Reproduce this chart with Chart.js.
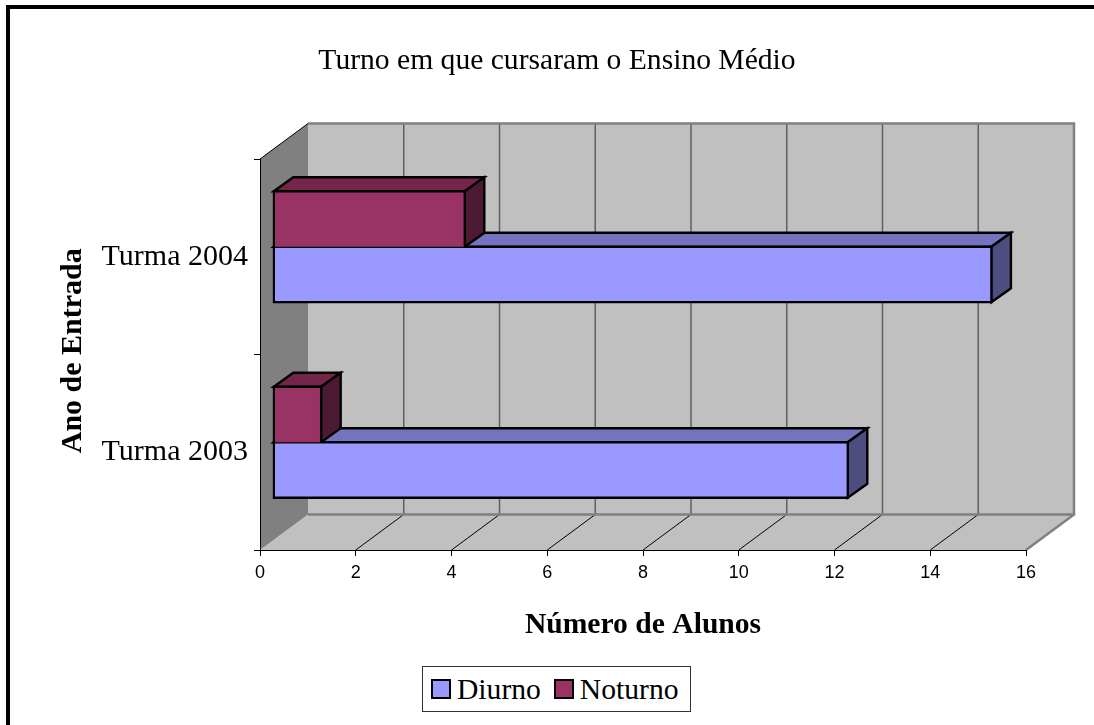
<!DOCTYPE html>
<html>
<head>
<meta charset="utf-8">
<title>Turno em que cursaram o Ensino Médio</title>
<script src="https://cdn.jsdelivr.net/npm/chart.js@4"></script>
<style>
    html, body { margin: 0; background: #fff; overflow: hidden; }
    #frame { position: absolute; left: 6px; top: 5px; right: 0; bottom: 0; border-left: 4px solid #000; border-top: 4px solid #000; }
    #chart { position: absolute; left: 20px; top: 0; }
    #legend {
        position: absolute; left: 422px; top: 666px; width: 267px; height: 44px;
        border: 1px solid #333; background: #fff; display: flex; align-items: center;
        font: 29.6px "Liberation Serif", serif; color: #000;
    }
    #legend i { display: block; width: 16px; height: 16px; border: 2px solid #000; margin: 0 6px 0 8px; }
    #legend span + i { margin-left: 13px; }
</style>
</head>
<body>
<div id="frame"></div>
<canvas id="chart" width="1074" height="725"></canvas>
<div id="legend"></div>
<script>
const categories = ["Turma 2003", "Turma 2004"];
const diurno = [12, 15];
const noturno = [1, 4];
const xTicksMax = 16;
const xTicksStep = 2;

const SERIF = '"Liberation Serif", serif';

// depth of the box the bars stand in, and of each bar
const BOX_DX = 48, BOX_DY = 35.5;
const BAR_SHIFT_X = 13.3, BAR_SHIFT_Y = 10;
const BAR_DX = 19.5, BAR_DY = 14;
const BAR_LINE = 2.4;

const box3d = {
    id: "box3d",
    beforeDraw(chart) {
        const ctx = chart.ctx;
        const {left, right, top, bottom} = chart.chartArea;
        const x = chart.scales.x;

        ctx.save();
        // back wall
        ctx.fillStyle = "#c0c0c0";
        ctx.fillRect(left + BOX_DX, top - BOX_DY, right - left, bottom - top);
        // floor
        ctx.beginPath();
        ctx.moveTo(left, bottom);
        ctx.lineTo(left + BOX_DX, bottom - BOX_DY);
        ctx.lineTo(right + BOX_DX, bottom - BOX_DY);
        ctx.lineTo(right, bottom);
        ctx.closePath();
        ctx.fill();
        // left wall
        ctx.fillStyle = "#808080";
        ctx.beginPath();
        ctx.moveTo(left, top);
        ctx.lineTo(left + BOX_DX, top - BOX_DY);
        ctx.lineTo(left + BOX_DX, bottom - BOX_DY);
        ctx.lineTo(left, bottom);
        ctx.closePath();
        ctx.fill();

        // gridlines on the wall, running on over the floor
        for (const tick of x.ticks) {
            if (tick.value === 0 || tick.value === xTicksMax) continue;
            const px = x.getPixelForValue(tick.value);
            ctx.strokeStyle = "#606060";
            ctx.lineWidth = 1.5;
            ctx.beginPath();
            ctx.moveTo(px + BOX_DX, top - BOX_DY);
            ctx.lineTo(px + BOX_DX, bottom - BOX_DY);
            ctx.stroke();
            ctx.strokeStyle = "#000";
            ctx.lineWidth = 1;
            ctx.beginPath();
            ctx.moveTo(px, bottom);
            ctx.lineTo(px + BOX_DX, bottom - BOX_DY);
            ctx.stroke();
        }

        // grey outline of the wall and floor
        ctx.strokeStyle = "#808080";
        ctx.lineWidth = 2.5;
        ctx.beginPath();
        ctx.moveTo(left + BOX_DX, top - BOX_DY);
        ctx.lineTo(right + BOX_DX, top - BOX_DY);
        ctx.lineTo(right + BOX_DX, bottom - BOX_DY);
        ctx.lineTo(left + BOX_DX, bottom - BOX_DY);
        ctx.moveTo(right + BOX_DX, bottom - BOX_DY);
        ctx.lineTo(right, bottom);
        ctx.stroke();

        ctx.strokeStyle = "#000";
        ctx.lineWidth = 1;
        ctx.beginPath();
        ctx.moveTo(left, top);
        ctx.lineTo(left + BOX_DX, top - BOX_DY);
        ctx.stroke();
        ctx.restore();
    },
    beforeDatasetsDraw(chart) {
        const ctx = chart.ctx;
        ctx.save();
        ctx.translate(BAR_SHIFT_X, -BAR_SHIFT_Y);
        // top and side faces go under the front faces chart.js draws next
        chart.data.datasets.forEach((ds, i) => {
            for (const bar of chart.getDatasetMeta(i).data) {
                const l = bar.base, r = bar.x;
                const t = bar.y - bar.height / 2, b = bar.y + bar.height / 2;
                ctx.strokeStyle = "#000";
                ctx.lineWidth = BAR_LINE;
                ctx.lineJoin = "miter";
                ctx.fillStyle = ds.topColor;
                ctx.beginPath();
                ctx.moveTo(l, t);
                ctx.lineTo(l + BAR_DX, t - BAR_DY);
                ctx.lineTo(r + BAR_DX, t - BAR_DY);
                ctx.lineTo(r, t);
                ctx.closePath();
                ctx.fill();
                ctx.stroke();
                ctx.fillStyle = ds.sideColor;
                ctx.beginPath();
                ctx.moveTo(r, t);
                ctx.lineTo(r + BAR_DX, t - BAR_DY);
                ctx.lineTo(r + BAR_DX, b - BAR_DY);
                ctx.lineTo(r, b);
                ctx.closePath();
                ctx.fill();
                ctx.stroke();
            }
        });
    },
    afterDatasetsDraw(chart) {
        chart.ctx.restore();
    }
};

const chart = new Chart(document.getElementById("chart"), {
    type: "bar",
    data: {
        labels: categories,
        datasets: [
            {
                label: "Diurno",
                data: diurno,
                order: 2,
                clip: false,
                backgroundColor: "#9999ff",
                topColor: "#7373bf",
                sideColor: "#4d4d80",
                borderColor: "#000",
                borderWidth: BAR_LINE,
                borderSkipped: false,
                inflateAmount: BAR_LINE / 2
            },
            {
                label: "Noturno",
                data: noturno,
                order: 1,
                clip: false,
                backgroundColor: "#993366",
                topColor: "#732649",
                sideColor: "#4d1a33",
                borderColor: "#000",
                borderWidth: {left: BAR_LINE, top: BAR_LINE, right: BAR_LINE, bottom: 0},
                borderSkipped: false,
                inflateAmount: BAR_LINE / 2
            }
        ]
    },
    options: {
        indexAxis: "y",
        responsive: false,
        animation: false,
        // equal side padding keeps the title centred on the canvas
        layout: {padding: {left: 68, right: 68}},
        categoryPercentage: 0.568,
        barPercentage: 1,
        plugins: {
            legend: {display: false},
            tooltip: {enabled: false},
            title: {
                display: true,
                text: "Turno em que cursaram o Ensino Médio",
                color: "#000",
                font: {family: SERIF, size: 29.6, weight: "normal"},
                padding: {top: 43.2, bottom: 80.3}
            }
        },
        scales: {
            x: {
                min: 0,
                max: xTicksMax,
                afterFit: s => { s.height = 175; },
                ticks: {
                    stepSize: xTicksStep,
                    color: "#000",
                    padding: 6,
                    maxRotation: 0,
                    font: {family: '"Liberation Sans", sans-serif', size: 18}
                },
                grid: {drawOnChartArea: false, color: "#000", tickLength: 6},
                border: {color: "#000", width: 1},
                title: {
                    display: true,
                    text: "Número de Alunos",
                    color: "#000",
                    font: {family: SERIF, size: 29.6, weight: "bold"},
                    padding: {top: 0, bottom: 82.2}
                }
            },
            y: {
                reverse: true,
                afterFit: s => { s.width = 172; },
                ticks: {
                    color: "#000",
                    padding: 6,
                    font: {family: SERIF, size: 30}
                },
                grid: {drawOnChartArea: false, color: "#000", tickLength: 6},
                border: {color: "#000", width: 1},
                title: {
                    display: true,
                    // leading space nudges the rotated title up a little
                    text: " Ano de Entrada",
                    color: "#000",
                    font: {family: SERIF, size: 30, weight: "bold"},
                    // the title sits left of the axis box, hence the negative offset
                    padding: {top: -33, bottom: 0}
                }
            }
        }
    },
    plugins: [box3d]
});

// legend sits in a plain box under the chart
const legend = document.getElementById("legend");
chart.data.datasets.forEach(ds => {
    const swatch = document.createElement("i");
    swatch.style.background = ds.backgroundColor;
    const name = document.createElement("span");
    name.textContent = ds.label;
    legend.appendChild(swatch);
    legend.appendChild(name);
});
</script>
</body>
</html>
